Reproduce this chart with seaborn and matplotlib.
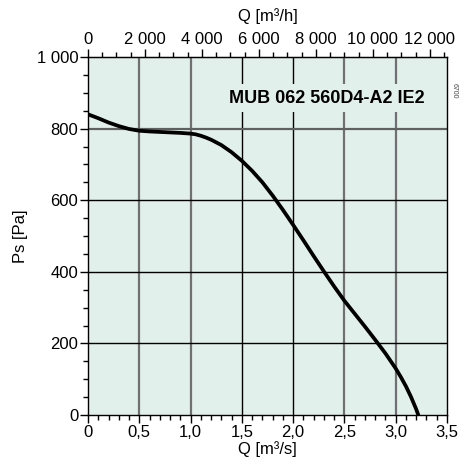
import numpy as np
import pandas as pd
import seaborn as sns
import matplotlib.pyplot as plt
from matplotlib.ticker import MultipleLocator, FixedLocator

# fan curve: flow [m3/s] vs static pressure [Pa]
flow = [0.0, 0.1, 0.2, 0.3, 0.4, 0.5, 0.6, 0.75, 0.9, 1.0, 1.05, 1.1, 1.15,
        1.2, 1.3, 1.4, 1.5, 1.6, 1.7, 1.8, 1.9, 2.0, 2.1, 2.2, 2.3, 2.4,
        2.5, 2.6, 2.7, 2.8, 2.9, 3.0, 3.05, 3.1, 3.15, 3.2, 3.22]
ps = [840, 829, 817, 807, 799, 794, 792, 790, 788, 786, 784, 780, 775,
      769, 754, 734, 710, 682, 650, 613, 573, 531, 488, 444, 401, 359,
      319, 283, 247, 210, 172, 130, 106, 80, 50, 16, 0]

x_ticks = [0, 0.5, 1.0, 1.5, 2.0, 2.5, 3.0, 3.5]
x_labels = ["0", "0,5", "1,0", "1,5", "2,0", "2,5", "3,0", "3,5"]
y_ticks = [0, 200, 400, 600, 800, 1000]
y_labels = ["0", "200", "400", "600", "800", "1 000"]
top_ticks = [0, 2000, 4000, 6000, 8000, 10000, 12000]
top_labels = ["0", "2 000", "4 000", "6 000", "8 000", "10 000", "12 000"]

title = "MUB 062 560D4-A2 IE2"

df = pd.DataFrame({"Q": flow, "Ps": ps})

sns.set_style("ticks", {'text.color': 'black', 'axes.labelcolor': 'black',
                        'xtick.color': 'black', 'ytick.color': 'black'})
plt.rcParams['font.family'] = ['Liberation Sans', 'DejaVu Sans']
plt.rcParams['font.size'] = 12

fig = plt.figure(figsize=(4.61, 4.66), dpi=100)
ax = fig.add_axes([88/461, 51/466, 359/461, 358/466])
ax.set_facecolor('#e2f0ec')

sns.lineplot(data=df, x="Q", y="Ps", ax=ax, color='black', linewidth=2.7)

ax.set_xlim(0, 3.5)
ax.set_ylim(0, 1000)
ax.set_xticks(x_ticks)
ax.set_xticklabels(x_labels)
ax.set_yticks(y_ticks)
ax.set_yticklabels(y_labels)
ax.xaxis.set_minor_locator(MultipleLocator(0.1))
ax.yaxis.set_minor_locator(MultipleLocator(50))
ax.tick_params(which='major', length=6, width=1, color='black',
               labelcolor='black', labelsize=12, pad=1)
ax.tick_params(which='minor', length=3.5, width=1, color='black')
ax.set_xlabel("Q [m³/s]", fontsize=12, labelpad=1, color='black')
ax.set_ylabel("Ps [Pa]", fontsize=12, labelpad=6, color='black')

# grid: some lines black, some grey like the original
ax.grid(True, which='major', linewidth=1.1)
for gl, c in zip(ax.get_xgridlines(), ['none', '#707070', '#707070', 'black',
                                       'black', '#707070', '#707070', 'none']):
    gl.set_color(c)
    gl.set_linewidth(1.0 if c == 'black' else 1.6)
for gl, c in zip(ax.get_ygridlines(), ['none', 'black', 'black', 'black',
                                       '#606060', 'none']):
    gl.set_color(c)
    gl.set_linewidth(1.0 if c == 'black' else 1.6)
ax.set_axisbelow(True)

for s in ax.spines.values():
    s.set_color('black')
    s.set_linewidth(1.0)

top = ax.secondary_xaxis('top', functions=(lambda q: q * 3600, lambda h: h / 3600))
top.xaxis.set_major_locator(FixedLocator(top_ticks))
top.set_xticklabels(top_labels)
top.xaxis.set_minor_locator(MultipleLocator(500))
top.tick_params(which='major', length=6, width=1, color='black',
                labelcolor='black', labelsize=12, pad=1)
top.tick_params(which='minor', length=3.5, width=1, color='black')
top.set_xlabel("Q [m³/h]", fontsize=12, labelpad=8, color='black')

ax.text(2.33, 885, title, ha='center', va='center', fontsize=13,
        fontweight='bold', color='black',
        bbox=dict(facecolor='#e2f0ec', edgecolor='none', pad=4))
fig.text(0.985, 0.805, "6700", rotation=270, fontsize=5, color='#444444',
         ha='center', va='center')

fig.savefig("out.png", dpi=100)
